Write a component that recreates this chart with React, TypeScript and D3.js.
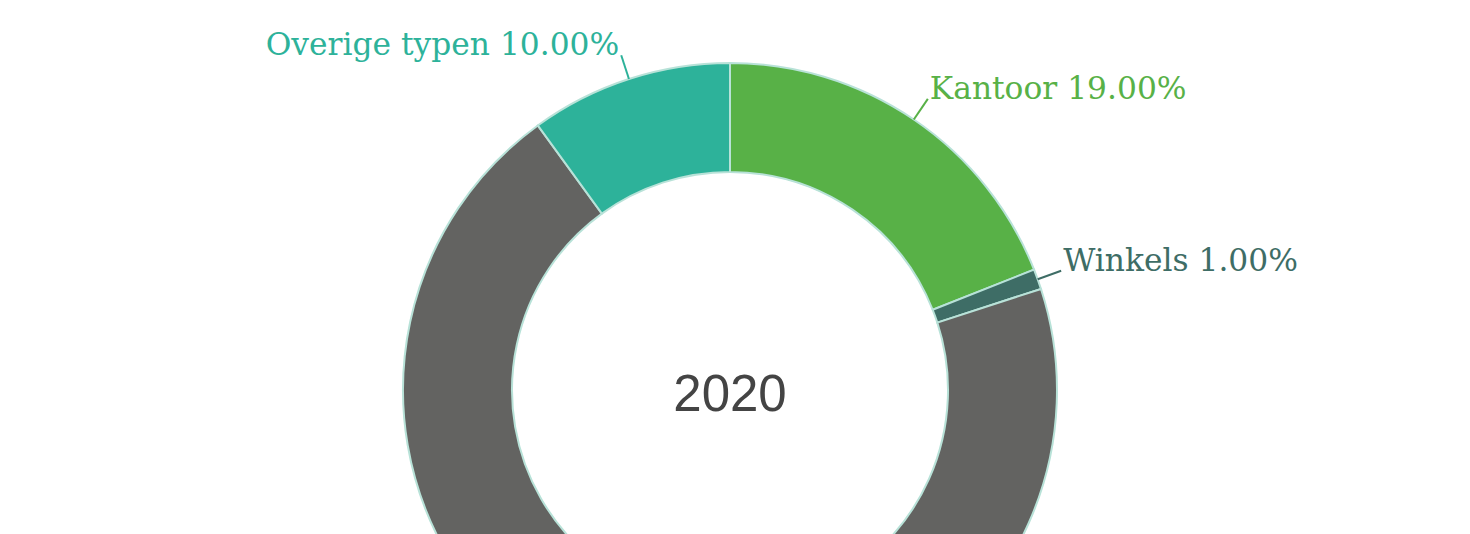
import React from "react";
import * as d3 from "d3";

const width = 1470,
  height = 534;
const cx = 730,
  cy = 390,
  outerR = 327,
  innerR = 218;

const categories = ["Kantoor", "Winkels", "Woningen", "Overige typen"];
const values = [19, 1, 70, 10];
const colors = ["#58b147", "#3e6d66", "#636361", "#2db29a"];
const centerTitle = "2020";

const data = categories.map((name, i) => ({ name, value: values[i], color: colors[i] }));

const App = () => {
  const pie = d3
    .pie<any>()
    .sort(null)
    .value(d => d.value);
  const arc = d3.arc<any>().innerRadius(innerR).outerRadius(outerR);
  const arcs = pie(data);
  const total = d3.sum(values);

  return (
    <svg
      width={width}
      height={height}
      style={{ position: "absolute", left: 0, top: 0, background: "#fff" }}
    >
      <g transform={`translate(${cx},${cy})`}>
        {arcs.map((a, i) => (
          <path key={i} d={arc(a) || ""} fill={a.data.color} stroke="#b8e2d8" strokeWidth={2} />
        ))}
        {arcs.map((a, i) => {
          const mid = (a.startAngle + a.endAngle) / 2;
          const sx = Math.sin(mid),
            sy = -Math.cos(mid);
          const x1 = sx * outerR,
            y1 = sy * outerR;
          const x2 = sx * (outerR + 25),
            y2 = sy * (outerR + 25);
          // label of the big slice sits below the visible area
          if (cy + y2 > height) return null;
          const right = sx >= 0;
          const pct = ((a.data.value / total) * 100).toFixed(2);
          return (
            <g key={"l" + i}>
              <path
                d={`M${x1},${y1}L${x2},${y2}`}
                stroke={a.data.color}
                strokeWidth={2}
                fill="none"
              />
              <text
                x={x2 + (right ? 2 : -2)}
                y={y2}
                textAnchor={right ? "start" : "end"}
                fill={a.data.color}
                fontFamily="'DejaVu Serif', serif"
                fontSize={31.3}
              >
                {`${a.data.name} ${pct}%`}
              </text>
            </g>
          );
        })}
        <text
          x={0}
          y={21}
          textAnchor="middle"
          fill="#444"
          fontFamily="'Liberation Sans', Arial, sans-serif"
          fontSize={51}
        >
          {centerTitle}
        </text>
      </g>
    </svg>
  );
};

export default App;
